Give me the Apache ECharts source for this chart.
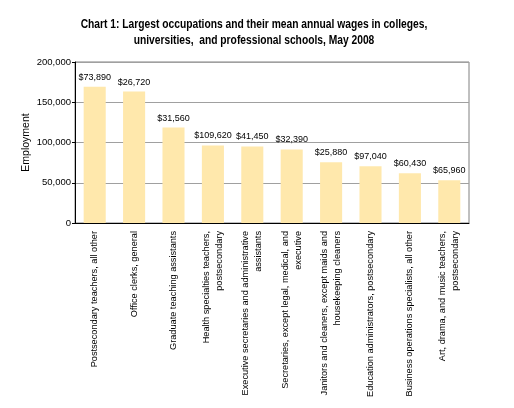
<!DOCTYPE html>
<html>
<head>
<meta charset="utf-8">
<script src="https://cdn.jsdelivr.net/npm/echarts@6/dist/echarts.min.js"></script>
<style>
html,body{margin:0;padding:0;background:#fff;}
#chart{width:514px;height:408px;}
</style>
</head>
<body>
<div id="chart"></div>
<script>
var titleLines = ['Chart 1: Largest occupations and their mean annual wages in colleges,', 'universities,  and professional schools, May 2008'];
var categories = [
  'Postsecondary teachers, all other',
  'Office clerks, general',
  'Graduate teaching assistants',
  'Health specialties teachers,\npostsecondary',
  'Executive secretaries and administrative\nassistants',
  'Secretaries, except legal, medical, and\nexecutive',
  'Janitors and cleaners, except maids and\nhousekeeping cleaners',
  'Education administrators, postsecondary',
  'Business operations specialists, all other',
  'Art, drama, and music teachers,\npostsecondary'
];
var employment = [169100, 163200, 118500, 96300, 95100, 91400, 75400, 70400, 61700, 53200];
var wageLabels = ['$73,890', '$26,720', '$31,560', '$109,620', '$41,450', '$32,390', '$25,880', '$97,040', '$60,430', '$65,960'];
var yAxisName = 'Employment';

var chart = echarts.init(document.getElementById('chart'), null, {renderer: 'canvas'});
var fontFam = 'Liberation Sans, Arial, sans-serif';
chart.setOption({
  backgroundColor: '#ffffff',
  animation: false,
  graphic: [{
    type: 'text',
    x: 254, y: 17,
    scaleX: 0.855,
    style: {
      text: titleLines.join('\n'),
      textAlign: 'center',
      textVerticalAlign: 'top',
      fontFamily: fontFam, fontWeight: 'bold', fontSize: 12, lineHeight: 16,
      fill: '#000'
    }
  }],
  grid: {left: 75, right: 45, top: 62, bottom: 185, show: true, borderColor: '#808080', borderWidth: 1},
  xAxis: {
    type: 'category',
    data: categories,
    axisLine: {lineStyle: {color: '#000', width: 1}},
    axisTick: {show: false},
    axisLabel: {interval: 0, rotate: 90, margin: 8, fontFamily: fontFam, fontSize: 9.2, lineHeight: 13, color: '#000'}
  },
  yAxis: {
    type: 'value',
    min: 0, max: 200000, interval: 50000,
    name: yAxisName,
    nameLocation: 'middle',
    nameGap: 43,
    nameMoveOverlap: false,
    nameTextStyle: {fontFamily: fontFam, fontSize: 10.5, color: '#000'},
    axisLine: {show: true, lineStyle: {color: '#000', width: 1}},
    axisTick: {show: true, length: 3, lineStyle: {color: '#000'}},
    axisLabel: {fontFamily: fontFam, fontSize: 9.5, color: '#000', margin: 4,
      formatter: function (v) { return v.toLocaleString('en-US'); }},
    splitLine: {lineStyle: {color: '#a0a0a0', width: 1}}
  },
  series: [{
    type: 'bar',
    data: employment,
    barCategoryGap: '44%',
    itemStyle: {color: '#FFE8AC'},
    label: {
      show: true, position: 'top', distance: 5,
      fontFamily: fontFam, fontSize: 9, color: '#000',
      formatter: function (p) { return wageLabels[p.dataIndex]; }
    }
  }]
});
</script>
</body>
</html>
